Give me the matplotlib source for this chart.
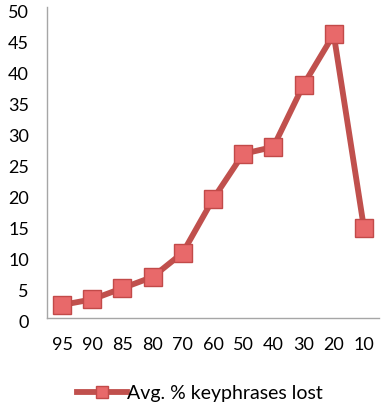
import matplotlib.pyplot as plt
from matplotlib.transforms import ScaledTranslation

plt.rcParams['font.family'] = ['Lato', 'DejaVu Sans']

# data
categories = ['95', '90', '85', '80', '70', '60', '50', '40', '30', '20', '10']
keyphrases_lost = [2.1, 3.0, 4.8, 6.6, 10.5, 19.1, 26.4, 27.5, 37.5, 45.6, 14.5]
yticks = [0, 5, 10, 15, 20, 25, 30, 35, 40, 45, 50]

fig = plt.figure(figsize=(3.88, 4.12), dpi=100)
ax = fig.add_axes([47/388, 94/412, 332/388, 311/412])

xs = range(len(categories))
ax.plot(xs, keyphrases_lost, color='#C0504D', lw=4.2, marker='s', ms=13.5,
        mfc='#E8696A', mec='#C24A49', mew=1.0, solid_joinstyle='round',
        label='Avg. % keyphrases lost')

ax.set_xlim(-0.5, len(categories) - 0.5)
ax.set_ylim(0, 50)
ax.set_xticks(list(xs))
ax.set_xticklabels(categories)
ax.set_yticks(yticks)
ax.tick_params(length=0, labelsize=13, colors='black')
ax.tick_params(axis='y', pad=13)
ax.tick_params(axis='x', pad=14)
# labels sit a few pixels below their values in the original
shift = ScaledTranslation(0, -4/100, fig.dpi_scale_trans)
for lab in ax.get_yticklabels():
    lab.set_transform(lab.get_transform() + shift)

for s in ['top', 'right']:
    ax.spines[s].set_visible(False)
for s in ['left', 'bottom']:
    ax.spines[s].set_color('#A6A6A6')
    ax.spines[s].set_linewidth(1.0)

fig.legend(loc='center', bbox_to_anchor=(200/388, 1 - 393/412), frameon=False,
           fontsize=14, handlelength=2.6, handletextpad=0.0, borderpad=0,
           markerscale=0.6)

fig.savefig('out.png', dpi=100)
